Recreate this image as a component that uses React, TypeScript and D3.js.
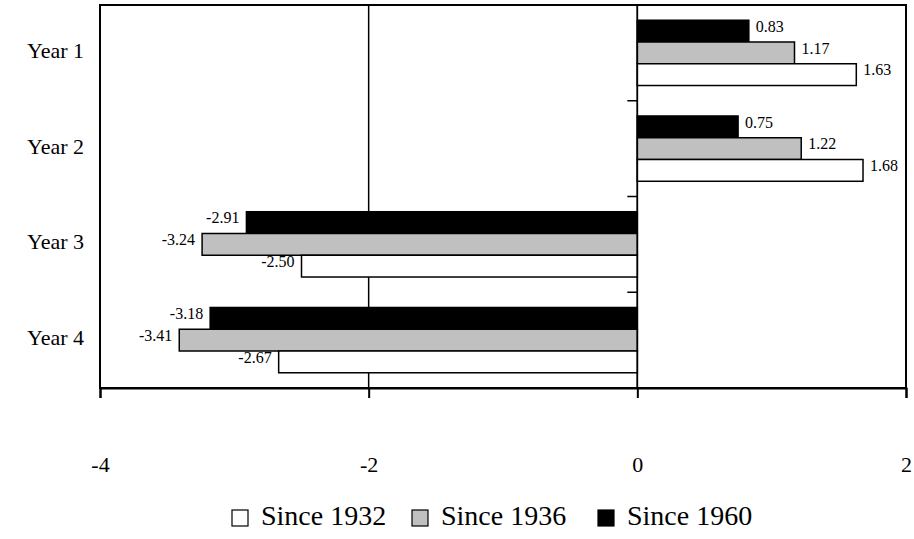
import React, { useEffect, useRef } from 'react';
import * as d3 from 'd3';

const categories = ['Year 1', 'Year 2', 'Year 3', 'Year 4'];
const seriesNames = ['Since 1960', 'Since 1936', 'Since 1932'];
const seriesColors = ['#000000', '#c0c0c0', '#ffffff'];
const since1960 = [0.83, 0.75, -2.91, -3.18];
const since1936 = [1.17, 1.22, -3.24, -3.41];
const since1932 = [1.63, 1.68, -2.5, -2.67];
const xTicks = [-4, -2, 0, 2];
const legendOrder = [2, 1, 0];

const App = () => {
  const svgRef = useRef<SVGSVGElement | null>(null);
  const width = 914;
  const height = 539;
  const left = 100;
  const right = 906;
  const top = 5;
  const bottom = 388;
  const font = 'Liberation Serif, DejaVu Serif, serif';

  useEffect(() => {
    const svg = d3.select(svgRef.current);
    svg.selectAll('*').remove();

    const values = [since1960, since1936, since1932];

    const x = d3.scaleLinear().domain([-4, 2]).range([left, right]);
    const y = d3.scaleBand<string>().domain(categories).range([top, bottom]);
    const inner = d3.scaleBand<string>()
      .domain(seriesNames)
      .range([0, y.bandwidth()])
      .paddingOuter(0.7)
      .paddingInner(0);

    // gridlines
    svg.append('g')
      .selectAll('line')
      .data(xTicks)
      .enter().append('line')
        .attr('x1', (d) => x(d))
        .attr('x2', (d) => x(d))
        .attr('y1', top)
        .attr('y2', bottom)
        .attr('stroke', '#000')
        .attr('stroke-width', 1.5);

    // frame
    svg.append('rect')
      .attr('x', left)
      .attr('y', top)
      .attr('width', right - left)
      .attr('height', bottom - top)
      .attr('fill', 'none')
      .attr('stroke', '#000')
      .attr('stroke-width', 2);

    // bars
    seriesNames.forEach((name, si) => {
      const g = svg.append('g');
      g.selectAll('rect')
        .data(values[si])
        .enter().append('rect')
          .attr('x', (d) => x(Math.min(0, d)))
          .attr('y', (d, i) => (y(categories[i]) as number) + (inner(name) as number))
          .attr('width', (d) => Math.abs(x(d) - x(0)))
          .attr('height', inner.bandwidth())
          .attr('fill', seriesColors[si])
          .attr('stroke', '#000')
          .attr('stroke-width', 1.5);

      g.selectAll('text')
        .data(values[si])
        .enter().append('text')
          .attr('x', (d) => (d >= 0 ? x(d) + 7 : x(d) - 7))
          .attr('y', (d, i) => (y(categories[i]) as number) + (inner(name) as number) + inner.bandwidth() / 2 - 3)
          .attr('text-anchor', (d) => (d >= 0 ? 'start' : 'end'))
          .attr('dominant-baseline', 'middle')
          .attr('font-family', font)
          .attr('font-size', 16)
          .text((d) => d.toFixed(2));
    });

    // category axis at zero, ticks at band boundaries
    svg.append('g')
      .selectAll('line')
      .data(d3.range(categories.length + 1))
      .enter().append('line')
        .attr('x1', x(0) - 10)
        .attr('x2', x(0))
        .attr('y1', (i) => top + i * y.step())
        .attr('y2', (i) => top + i * y.step())
        .attr('stroke', '#000')
        .attr('stroke-width', 1.5);
    svg.append('line')
      .attr('x1', x(0))
      .attr('x2', x(0))
      .attr('y1', top)
      .attr('y2', bottom)
      .attr('stroke', '#000')
      .attr('stroke-width', 1.5);

    // category labels
    svg.append('g')
      .selectAll('text')
      .data(categories)
      .enter().append('text')
        .attr('x', 84)
        .attr('y', (d) => (y(d) as number) + y.bandwidth() / 2)
        .attr('text-anchor', 'end')
        .attr('dominant-baseline', 'middle')
        .attr('font-family', font)
        .attr('font-size', 22)
        .text((d) => d);

    // x axis
    const xa = svg.append('g')
      .attr('transform', `translate(0,${bottom})`)
      .call(d3.axisBottom(x).tickValues(xTicks).tickSize(10).tickPadding(58).tickFormat(d3.format('d')));
    xa.select('.domain').attr('stroke-width', 2);
    xa.selectAll('line').attr('stroke-width', 2);
    xa.selectAll('text')
      .attr('font-family', font)
      .attr('font-size', 22)
      .attr('fill', '#000')
      .text((d: any) => (d < 0 ? '-' + Math.abs(d) : String(d)));

    // legend
    const legendX = [232, 412, 598];
    const lg = svg.append('g');
    legendOrder.forEach((si, k) => {
      lg.append('rect')
        .attr('x', legendX[k])
        .attr('y', 510)
        .attr('width', 16)
        .attr('height', 16)
        .attr('fill', seriesColors[si])
        .attr('stroke', '#000')
        .attr('stroke-width', 1.2);
      lg.append('text')
        .attr('x', legendX[k] + 29)
        .attr('y', 519)
        .attr('dominant-baseline', 'middle')
        .attr('font-family', font)
        .attr('font-size', 28)
        .text(seriesNames[si]);
    });
  }, []);

  return (
    <svg
      ref={svgRef}
      width={width}
      height={height}
      style={{ position: 'absolute', left: 0, top: 0, background: '#fff' }}
    />
  );
};

export default App;
